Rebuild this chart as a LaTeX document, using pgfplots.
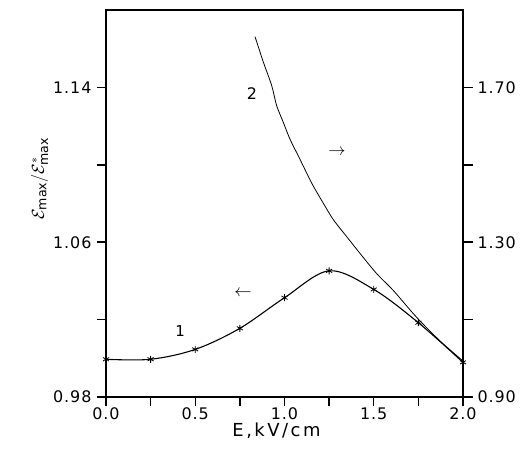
\documentclass[border=0pt]{standalone}
\usepackage{fontspec}
\setmainfont{DejaVu Sans}
\newfontfamily\tlfont[LetterSpace=6]{DejaVu Sans}
\newfontfamily\lbfont[LetterSpace=14]{DejaVu Sans}
\usepackage{pgfplots}
\pgfplotsset{compat=1.18}

\begin{document}
\begin{tikzpicture}
\begin{axis}[
    scale only axis, width=357bp, height=387bp,
    xmin=0, xmax=2, ymin=0.98, ymax=1.18,
    axis line style={line width=1.1pt},
    tick style={line width=1.5pt, draw=black},
    tick align=outside,
    major tick length=9bp,
    every tick label/.append style={font=\tlfont\fontsize{16}{18}\selectfont},
    xtick={0,0.25,...,2}, xticklabels={0.0,,0.5,,1.0,,1.5,,2.0},
    ytick={0.98,1.02,1.06,1.10,1.14}, yticklabels={0.98,,1.06,,1.14},
    xtick pos=left, ytick pos=left,
    xlabel={E,kV/cm},
    ylabel={$\mathcal{E}_{\mathrm{max}}/\mathcal{E}^{*}_{\mathrm{max}}$},
    xlabel style={font=\lbfont\fontsize{18}{20}\selectfont, yshift=4bp, xshift=-8bp},
    ylabel style={font=\fontsize{18}{20}\selectfont, at={(ticklabel cs:0.565)}, yshift=-2bp},
    xticklabel style={yshift=2bp},
    yticklabel style={xshift=-2bp},
]
\addplot[black, line width=1.1pt, smooth, tension=0.55, mark=asterisk, mark size=3.5bp,
  mark options={line width=0.8pt}]
  coordinates {
  (0.00,0.9995) (0.25,0.9995) (0.50,1.0046) (0.75,1.0155) (1.00,1.0313)
  (1.25,1.0452) (1.50,1.0356) (1.75,1.0184) (2.00,0.9979)
  };
\node[font=\fontsize{16}{20}\selectfont] at (axis cs:0.818,1.137) {2};
\node[font=\fontsize{15}{20}\selectfont] at (axis cs:0.415,1.014) {1};
\node[font=\fontsize{18}{20}\selectfont] at (axis cs:1.294,1.1065) {$\rightarrow$};
\node[font=\fontsize{18}{20}\selectfont] at (axis cs:0.767,1.0337) {$\leftarrow$};
\end{axis}
\begin{axis}[
    scale only axis, width=357bp, height=387bp,
    xmin=0, xmax=2, ymin=0.90, ymax=1.90,
    axis x line=none, axis y line*=right,
    axis line style={line width=1.1pt},
    tick style={line width=1.5pt, draw=black},
    tick align=outside,
    major tick length=10bp,
    every tick label/.append style={font=\tlfont\fontsize{16}{18}\selectfont},
    ytick={0.9,1.1,1.3,1.5,1.7}, yticklabels={0.90,,1.30,,1.70},
    yticklabel style={xshift=1bp},
]
\addplot[black, line width=0.8pt, smooth, tension=0.5]
  coordinates {
  (0.835,1.831) (0.881,1.766) (0.928,1.705) (0.956,1.653) (0.993,1.610)
  (1.031,1.566) (1.087,1.514) (1.152,1.453) (1.217,1.401) (1.274,1.358)
  (1.349,1.314) (1.423,1.271) (1.516,1.219) (1.610,1.175) (1.740,1.106)
  (1.871,1.045) (2.000,0.993)
  };
\end{axis}
\pgfresetboundingbox
\useasboundingbox (current axis.south west) ++(-106bp,-60bp) rectangle ++(523bp,457bp);
\end{tikzpicture}
\end{document}
